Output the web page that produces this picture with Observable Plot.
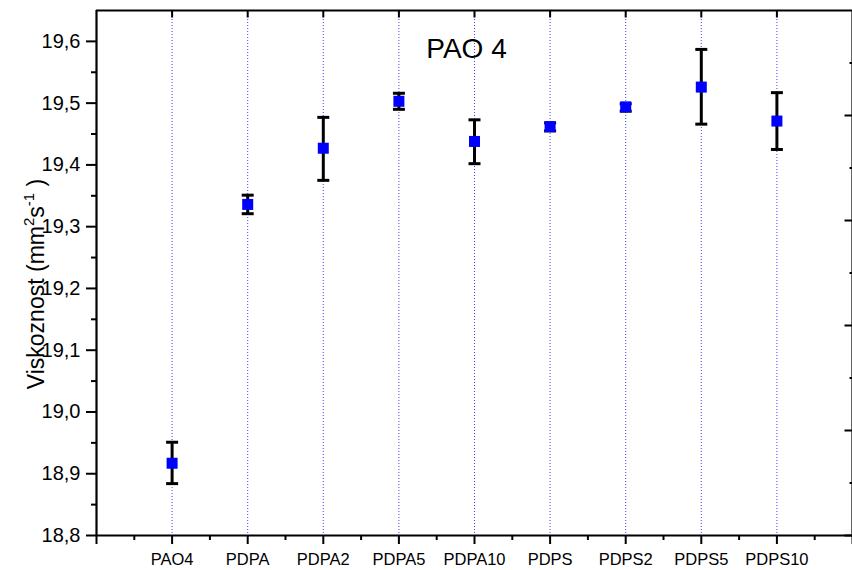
<!DOCTYPE html>
<html>
<head>
<meta charset="utf-8">
<script src="https://cdn.jsdelivr.net/npm/d3@7"></script>
<script src="https://cdn.jsdelivr.net/npm/@observablehq/plot@0.6"></script>
<style>
  html, body { margin: 0; padding: 0; background: #fff; overflow: hidden; }
  #chart { width: 852px; height: 570px; overflow: hidden; }
  #chart svg { max-width: none !important; width: 852px; height: 570px; }
</style>
</head>
<body>
<div id="chart"></div>
<script>
// ---- data ----
const categories = ["PAO4", "PDPA", "PDPA2", "PDPA5", "PDPA10", "PDPS", "PDPS2", "PDPS5", "PDPS10"];
const means   = [18.917, 19.336, 19.427, 19.503, 19.438, 19.462, 19.494, 19.526, 19.471];
const errLow  = [18.884, 19.321, 19.375, 19.490, 19.402, 19.455, 19.487, 19.466, 19.425];
const errHigh = [18.951, 19.351, 19.477, 19.516, 19.473, 19.468, 19.499, 19.587, 19.517];
const yMajorTicks = [18.8, 18.9, 19.0, 19.1, 19.2, 19.3, 19.4, 19.5, 19.6];
const yMinorTicks = [18.85, 18.95, 19.05, 19.15, 19.25, 19.35, 19.45, 19.55];
const rightMajorTicks = [18.8, 18.97, 19.14, 19.31, 19.48];
const rightMinorTicks = [18.885, 19.055, 19.225, 19.395, 19.565];
const yMin = 18.8, yMax = 19.65;
const title = "PAO 4";

const rows = categories.map((c, i) => ({pos: i + 1, name: c, mean: means[i], lo: errLow[i], hi: errHigh[i]}));
const xMax = categories.length + 1;
const catPos = rows.map(d => d.pos);
const halfPos = d3.range(0.5, xMax, 1);

// custom symbols
const capSym = {draw(ctx) { ctx.moveTo(-6, 0); ctx.lineTo(6, 0); }};
const sqSym = {draw(ctx) { ctx.rect(-5.5, -5.5, 11, 11); }};
const rightMajorSym = {draw(ctx) { ctx.moveTo(-8, 0); ctx.lineTo(0, 0); }};
const rightMinorSym = {draw(ctx) { ctx.moveTo(-3, 0); ctx.lineTo(0, 0); }};
const topTickSym = {draw(ctx) { ctx.moveTo(0, 0); ctx.lineTo(0, 7); }};

const fmt = d => d.toFixed(1).replace(".", ",");

const plot = Plot.plot({
  width: 852,
  height: 570,
  marginLeft: 96,
  marginRight: 0,
  marginTop: 10,
  marginBottom: 35,
  style: {fontFamily: "'Liberation Sans', Arial, sans-serif", color: "#000", background: "#fff", overflow: "visible"},
  x: {type: "linear", domain: [0, xMax]},
  y: {domain: [yMin, yMax]},
  marks: [
    // dotted blue grid at categories
    Plot.ruleX(catPos, {stroke: "#0000ff", strokeOpacity: 0.75, strokeWidth: 1, strokeDasharray: "1,2"}),
    // top ticks
    Plot.dot(catPos, {x: d => d, y: () => yMax, symbol: topTickSym, fill: "none", stroke: "#000", strokeWidth: 2}),
    // right ticks (inward)
    Plot.dot(rightMajorTicks, {x: () => xMax, y: d => d, symbol: rightMajorSym, fill: "none", stroke: "#000", strokeWidth: 2}),
    Plot.dot(rightMinorTicks, {x: () => xMax, y: d => d, symbol: rightMinorSym, fill: "none", stroke: "#000", strokeWidth: 2}),
    // left axis
    Plot.axisY({ticks: yMajorTicks, tickSize: 10, tickPadding: 6, tickFormat: fmt, fontSize: 20, stroke: "#000", strokeWidth: 2, strokeOpacity: 1, label: null}),
    Plot.axisY({ticks: yMinorTicks, tickSize: 5, tickFormat: () => "", stroke: "#000", strokeWidth: 2, strokeOpacity: 1, label: null}),
    // bottom axis
    Plot.axisX({ticks: catPos, tickSize: 9, tickPadding: 9, tickFormat: i => categories[i - 1], fontSize: 16.5, stroke: "#000", strokeWidth: 2, strokeOpacity: 1, label: null}),
    Plot.axisX({ticks: [0, xMax], tickSize: 9, tickFormat: () => "", stroke: "#000", strokeWidth: 2, strokeOpacity: 1, label: null}),
    Plot.axisX({ticks: halfPos, tickSize: 5, tickFormat: () => "", stroke: "#000", strokeWidth: 2, strokeOpacity: 1, label: null}),
    // axes lines
    Plot.ruleY([yMax], {stroke: "#000", strokeWidth: 2.2}),
    Plot.ruleY([yMin], {stroke: "#000", strokeWidth: 2.2}),
    Plot.ruleX([0], {stroke: "#000", strokeWidth: 2.2}),
    Plot.ruleX([xMax], {stroke: "#000", strokeWidth: 2.2}),
    // error bars
    Plot.ruleX(rows, {x: "pos", y1: "lo", y2: "hi", stroke: "#000", strokeWidth: 3}),
    Plot.dot(rows, {x: "pos", y: "lo", symbol: capSym, fill: "none", stroke: "#000", strokeWidth: 3}),
    Plot.dot(rows, {x: "pos", y: "hi", symbol: capSym, fill: "none", stroke: "#000", strokeWidth: 3}),
    // means
    Plot.dot(rows, {x: "pos", y: "mean", symbol: sqSym, fill: "#0000ff", stroke: "none"}),
    // title
    Plot.text([title], {frameAnchor: "top", text: d => d, dx: -8, dy: 39, lineAnchor: "middle", fontSize: 28, fill: "#000"})
  ]
});

document.getElementById("chart").appendChild(plot);

// y-axis label with superscripts
const svg = d3.select(plot);
const lab = svg.append("text")
  .attr("transform", "translate(44,284) rotate(-90)")
  .attr("text-anchor", "middle")
  .attr("font-size", 23)
  .attr("fill", "#000")
  .attr("font-family", "'Liberation Sans', Arial, sans-serif");
lab.append("tspan").text("Viskoznost (mm");
lab.append("tspan").attr("font-size", 15).attr("dy", -10).text("2");
lab.append("tspan").attr("dy", 10).text("s");
lab.append("tspan").attr("font-size", 15).attr("dy", -10).text("-1");
lab.append("tspan").attr("dy", 10).text(" )");
</script>
</body>
</html>
